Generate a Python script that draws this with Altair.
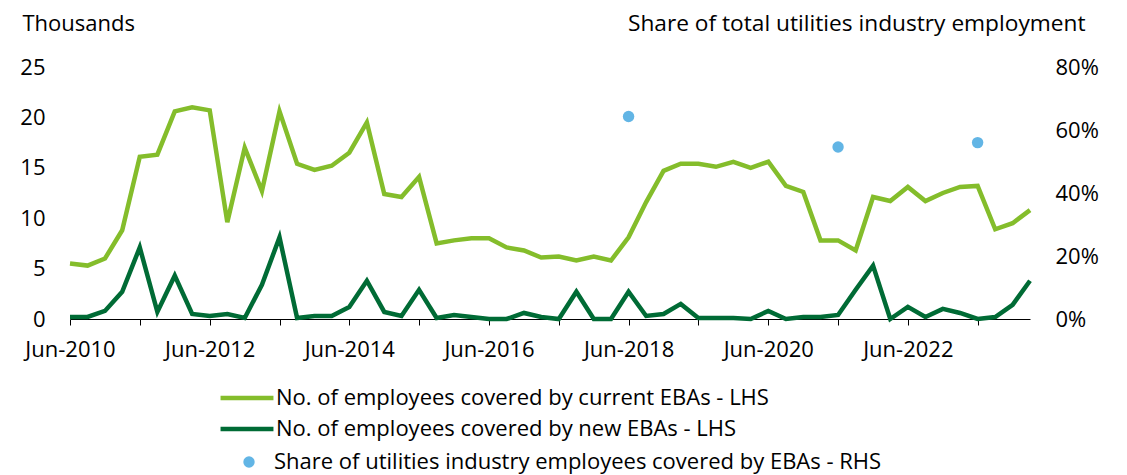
import altair as alt
import pandas as pd

# Quarterly observations, Jun-2010 .. Mar-2024
quarters = pd.date_range("2010-06-01", periods=56, freq="3MS").strftime("%Y-%m-%d").tolist()

current_ebas = [5.5, 5.3, 6.0, 8.8, 16.1, 16.3, 20.6, 21.0, 20.7, 9.6,
                17.0, 12.7, 20.6, 15.4, 14.8, 15.2, 16.5, 19.5, 12.4, 12.1,
                14.1, 7.5, 7.8, 8.0, 8.0, 7.1, 6.8, 6.1, 6.2, 5.8,
                6.2, 5.8, 8.1, 11.6, 14.7, 15.4, 15.4, 15.1, 15.6, 15.0,
                15.6, 13.2, 12.6, 7.8, 7.8, 6.8, 12.1, 11.7, 13.1, 11.7,
                12.5, 13.1, 13.2, 8.9, 9.5, 10.8]
new_ebas = [0.2, 0.2, 0.8, 2.7, 7.1, 0.7, 4.3, 0.5, 0.3, 0.5,
            0.1, 3.4, 8.1, 0.1, 0.3, 0.3, 1.2, 3.8, 0.7, 0.3,
            2.9, 0.1, 0.4, 0.2, 0.0, 0.0, 0.6, 0.2, 0.0, 2.7,
            0.0, 0.0, 2.7, 0.3, 0.5, 1.5, 0.1, 0.1, 0.1, 0.0,
            0.8, 0.0, 0.2, 0.2, 0.4, 2.9, 5.3, 0.0, 1.2, 0.2,
            1.0, 0.6, 0.0, 0.2, 1.4, 3.8]

share_dates = ["2018-06-01", "2021-06-01", "2023-06-01"]
share_values = [64.3, 54.6, 56.0]

series_current = "No. of employees covered by current EBAs - LHS"
series_new = "No. of employees covered by new EBAs - LHS"
series_share = "Share of utilities industry employees covered by EBAs - RHS"

left_ticks = [0, 5, 10, 15, 20, 25]
right_ticks = [0, 20, 40, 60, 80]
tick_years = list(range(2010, 2024))

LIGHT = "#84BD2B"
DARK = "#006B35"
BLUE = "#62B5E5"
FONT = "Open Sans"
FS = 22

current_df = pd.DataFrame({"date": quarters, "value": current_ebas, "series": [series_current] * len(quarters)})
new_df = pd.DataFrame({"date": quarters, "value": new_ebas, "series": [series_new] * len(quarters)})
share_df = pd.DataFrame({"date": share_dates, "share": share_values, "series": [series_share] * len(share_dates)})

x_scale = alt.Scale(type="utc", domain=[alt.DateTime(year=2010, month=6, date=1, utc=True),
                                        alt.DateTime(year=2024, month=3, date=1, utc=True)], nice=False)

x_axis = alt.Axis(
    values=[alt.DateTime(year=y, month=6, date=1, utc=True) for y in tick_years],
    labelExpr="utcyear(datum.value) % 2 == 0 ? utcFormat(datum.value, '%b-%Y') : ''",
    title=None, grid=False, tickSize=6, tickColor="#000", domainColor="#000",
    labelFlush=False, labelOverlap=False, labelPadding=14, labelFontSize=FS, labelColor="#000",
)

y_left = alt.Y("value:Q", scale=alt.Scale(domain=[0, 25], nice=False),
               axis=alt.Axis(values=left_ticks, title="Thousands", titleAngle=0, titleAlign="left",
                             titleBaseline="alphabetic", titleX=-48, titleY=-37, titleFontSize=FS,
                             titleFontWeight="normal", titleColor="#000",
                             ticks=False, tickSize=0, domain=False, grid=False, labelPadding=25,
                             labelFontSize=FS, labelColor="#000", orient="left"))


def line_legend(y):
    return alt.Legend(title=None, orient="none", legendX=148, legendY=y,
                      symbolType="stroke", symbolSize=2800, symbolStrokeWidth=4.5,
                      labelFontSize=FS, labelColor="#000", labelOffset=0,
                      labelLimit=0, padding=0)


current_line = alt.Chart(current_df).mark_line(strokeWidth=4.5).encode(
    x=alt.X("date:T", scale=x_scale, axis=x_axis),
    y=y_left,
    color=alt.Color("series:N", scale=alt.Scale(domain=[series_current], range=[LIGHT]),
                    legend=line_legend(302)),
)

new_line = alt.Chart(new_df).mark_line(strokeWidth=4.5).encode(
    x=alt.X("date:T", scale=x_scale, axis=x_axis),
    y=y_left,
    stroke=alt.Stroke("series:N", scale=alt.Scale(domain=[series_new], range=[DARK]),
                      legend=line_legend(333)),
)

points = alt.Chart(share_df).mark_circle(size=130, opacity=1).encode(
    x=alt.X("date:T", scale=x_scale, axis=x_axis),
    y=alt.Y("share:Q", scale=alt.Scale(domain=[0, 80], nice=False),
            axis=alt.Axis(values=right_ticks, labelExpr="datum.value + '%'",
                          title="Share of total utilities industry employment", titleAngle=0,
                          titleAlign="right", titleBaseline="alphabetic", titleX=55, titleY=-37,
                          titleFontSize=22.7, titleFontWeight="normal", titleColor="#000",
                          ticks=False, tickSize=0, domain=False, grid=False, labelPadding=25,
                          labelFontSize=FS, labelColor="#000", orient="right")),
    fill=alt.Fill("series:N", scale=alt.Scale(domain=[series_share], range=[BLUE]),
                  legend=alt.Legend(title=None, orient="none", legendX=168, legendY=384,
                                    symbolType="circle", symbolSize=130, symbolStrokeWidth=0,
                                    labelFontSize=FS, labelColor="#000", labelOffset=14,
                                    labelLimit=0, padding=0)),
)

left_layer = alt.layer(current_line, new_line)
chart = alt.layer(left_layer, points).resolve_scale(y="independent").properties(
    width=960, height=252, autosize="none",
    padding={"left": 62, "top": 59, "right": 80, "bottom": 156},
).configure(font=FONT).configure_view(stroke=None)

chart.save("out.html", embed_options={"renderer": "svg", "actions": False})
